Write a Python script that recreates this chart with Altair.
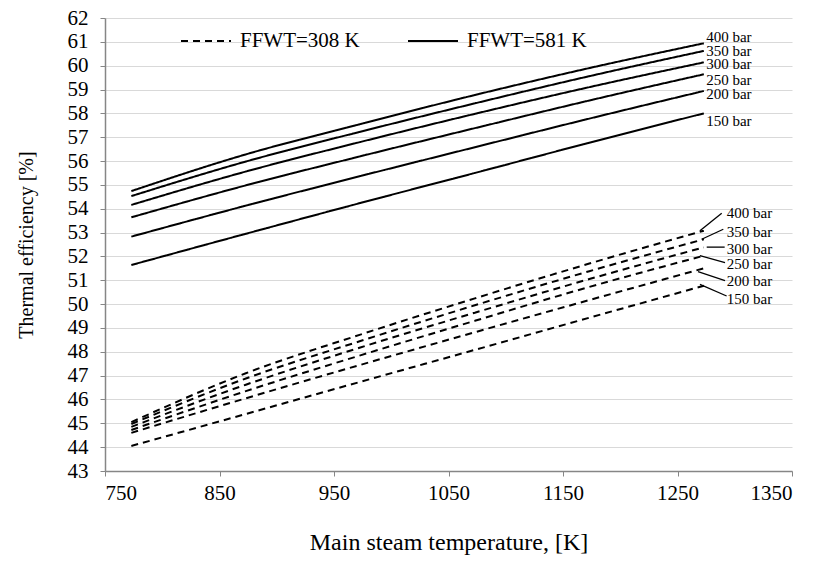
import altair as alt
import pandas as pd

# ---- data ----
temps = [773, 873, 973, 1073, 1173, 1273]
pressures = ["150 bar", "200 bar", "250 bar", "300 bar", "350 bar", "400 bar"]

# FFWT = 581 K (solid)
hot_150 = [51.64, 52.95, 54.24, 55.50, 56.77, 58.00]
hot_200 = [52.83, 54.13, 55.37, 56.58, 57.78, 58.94]
hot_250 = [53.64, 54.98, 56.20, 57.38, 58.54, 59.64]
hot_300 = [54.16, 55.56, 56.80, 57.98, 59.10, 60.14]
hot_350 = [54.53, 55.98, 57.23, 58.42, 59.56, 60.62]
hot_400 = [54.74, 56.28, 57.55, 58.77, 59.90, 60.94]

# FFWT = 308 K (dashed)
cold_150 = [44.05, 45.39, 46.74, 48.08, 49.43, 50.77]
cold_200 = [44.60, 46.05, 47.45, 48.82, 50.17, 51.50]
cold_250 = [44.72, 46.35, 47.85, 49.30, 50.72, 52.03]
cold_300 = [44.85, 46.62, 48.18, 49.64, 51.05, 52.38]
cold_350 = [44.97, 46.88, 48.45, 49.95, 51.38, 52.72]
cold_400 = [45.05, 47.10, 48.72, 50.24, 51.70, 53.08]

series_names = ["FFWT=308 K", "FFWT=581 K"]

# label anchor positions (data units)
hot_label_T = [1275, 1275, 1275, 1275, 1275, 1275]
hot_label_v = [57.69, 58.81, 59.40, 60.06, 60.63, 61.20]
cold_label_T = [1293, 1293, 1293, 1293, 1293, 1293]
cold_label_v = [50.20, 50.98, 51.68, 52.30, 53.04, 53.81]
# leader lines for dashed-series labels
lead_T1 = [1269.6, 1267.9, 1269.6, 1275.5, 1271.1, 1269.6]
lead_v1 = [50.83, 51.36, 52.03, 52.39, 52.72, 53.08]
lead_T2 = [1292.9, 1291.5, 1291.5, 1291.2, 1290.0, 1288.6]
lead_v2 = [50.34, 50.98, 51.74, 52.39, 53.14, 53.81]

x_ticks = [750, 850, 950, 1050, 1150, 1250, 1350]
y_ticks = list(range(43, 63))

# ---- build tables ----
rows = []
hot = [hot_150, hot_200, hot_250, hot_300, hot_350, hot_400]
cold = [cold_150, cold_200, cold_250, cold_300, cold_350, cold_400]
for p, vals in zip(pressures, cold):
    for t, v in zip(temps, vals):
        rows.append({"T": t, "eff": v, "series": series_names[0], "p": p, "key": "c" + p})
for p, vals in zip(pressures, hot):
    for t, v in zip(temps, vals):
        rows.append({"T": t, "eff": v, "series": series_names[1], "p": p, "key": "h" + p})
df = pd.DataFrame(rows)

hot_lab = pd.DataFrame({"T": hot_label_T, "eff": hot_label_v, "txt": pressures})
cold_lab = pd.DataFrame({"T": cold_label_T, "eff": cold_label_v, "txt": pressures})
leads = pd.DataFrame({"T1": lead_T1, "v1": lead_v1, "T2": lead_T2, "v2": lead_v2})

FONT = "Liberation Serif"

xs = alt.Scale(domain=[750, 1350], nice=False, zero=False)
ys = alt.Scale(domain=[43, 62], nice=False, zero=False)

lines = alt.Chart(df).mark_line(color="black", strokeWidth=2, interpolate="monotone").encode(
    x=alt.X("T:Q", scale=xs,
            axis=alt.Axis(values=x_ticks, tickCount=10, title="Main steam temperature, [K]",
                          grid=False, labelFontSize=21, titleFontSize=24, labelPadding=6,
                          titlePadding=27, format="d", labelOverlap=False)),
    y=alt.Y("eff:Q", scale=ys,
            axis=alt.Axis(values=y_ticks, tickCount=30, title="Thermal efficiency [%]",
                          grid=True, labelFontSize=21, titleFontSize=20, labelPadding=12,
                          titlePadding=31, format="d", labelOverlap=False)),
    strokeDash=alt.StrokeDash(
        "series:N",
        scale=alt.Scale(domain=series_names, range=[[7, 5], [1, 0]]),
        legend=alt.Legend(title=None, orient="none", legendX=75, legendY=-3,
                          direction="horizontal", symbolType="stroke", symbolSize=2500,
                          symbolStrokeWidth=2, symbolStrokeColor="black",
                          labelFont=FONT, labelFontSize=21, labelColor="black",
                          labelOffset=8, columnPadding=44, padding=0),
    ),
    detail="key:N",
)

hot_text = alt.Chart(hot_lab).mark_text(
    align="left", baseline="middle", font=FONT, fontSize=15, color="black"
).encode(x=alt.X("T:Q", scale=xs), y=alt.Y("eff:Q", scale=ys), text="txt:N")

cold_text = alt.Chart(cold_lab).mark_text(
    align="left", baseline="middle", font=FONT, fontSize=15, color="black"
).encode(x=alt.X("T:Q", scale=xs), y=alt.Y("eff:Q", scale=ys), text="txt:N")

lead_rules = alt.Chart(leads).mark_rule(color="black", strokeWidth=1.3).encode(
    x=alt.X("T1:Q", scale=xs), y=alt.Y("v1:Q", scale=ys),
    x2="T2:Q", y2="v2:Q",
)

chart = alt.layer(lines, lead_rules, hot_text, cold_text).properties(
    width=687, height=453,
    autosize=alt.AutoSizeParams(type="none"),
    padding={"left": 105, "top": 18, "right": 22, "bottom": 90},
    background="white",
).configure_view(stroke=None).configure_axis(
    labelFont=FONT, titleFont=FONT, labelColor="black", titleColor="black",
    titleFontWeight="normal", domainColor="#868686", tickColor="#868686",
    tickSize=5, gridColor="#d9d9d9", gridWidth=1.2, domainWidth=1.5,
)

chart.save("out.html", embed_options={"renderer": "svg", "actions": False})
